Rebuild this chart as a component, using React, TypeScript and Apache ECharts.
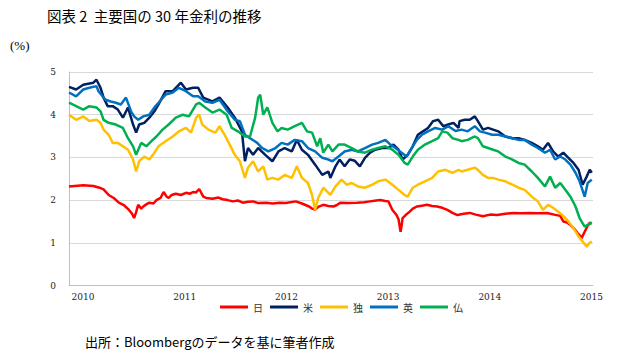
import React, { useEffect, useRef } from "react";
import * as echarts from "echarts";

// dates are fractional years
const jpData: [number, number][] = [
  [2010.00,2.32],[2010.14,2.35],[2010.24,2.33],[2010.30,2.29],[2010.34,2.25],[2010.39,2.12],[2010.44,2.05],[2010.49,1.94],[2010.54,1.88],[2010.59,1.77],[2010.62,1.68],[2010.64,1.58],[2010.66,1.72],[2010.68,1.89],[2010.71,1.80],[2010.73,1.85],[2010.76,1.90],[2010.79,1.94],[2010.83,1.92],[2010.86,2.00],[2010.90,2.05],[2010.93,2.19],[2010.96,2.08],[2010.98,2.05],[2011.01,2.12],[2011.05,2.15],[2011.10,2.12],[2011.15,2.17],[2011.19,2.15],[2011.22,2.19],[2011.25,2.18],[2011.28,2.26],[2011.32,2.08],[2011.35,2.05],[2011.41,2.03],[2011.47,2.06],[2011.51,2.02],[2011.56,2.00],[2011.61,1.97],[2011.66,1.99],[2011.71,1.94],[2011.76,1.96],[2011.81,1.97],[2011.86,1.93],[2011.94,1.94],[2012.00,1.92],[2012.07,1.94],[2012.13,1.93],[2012.23,1.97],[2012.29,1.92],[2012.36,1.85],[2012.39,1.80],[2012.42,1.78],[2012.45,1.84],[2012.50,1.89],[2012.55,1.86],[2012.60,1.85],[2012.63,1.88],[2012.67,1.94],[2012.74,1.93],[2012.83,1.94],[2012.90,1.95],[2012.96,1.97],[2013.02,1.99],[2013.06,2.00],[2013.11,1.98],[2013.14,1.97],[2013.18,1.77],[2013.22,1.65],[2013.24,1.55],[2013.26,1.26],[2013.27,1.40],[2013.28,1.58],[2013.31,1.65],[2013.35,1.73],[2013.38,1.80],[2013.42,1.85],[2013.47,1.87],[2013.52,1.89],[2013.57,1.86],[2013.62,1.85],[2013.67,1.82],[2013.72,1.77],[2013.77,1.70],[2013.82,1.65],[2013.88,1.68],[2013.94,1.70],[2014.00,1.66],[2014.07,1.62],[2014.14,1.66],[2014.21,1.65],[2014.29,1.68],[2014.37,1.70],[2014.44,1.69],[2014.53,1.70],[2014.61,1.69],[2014.70,1.70],[2014.77,1.66],[2014.83,1.63],[2014.86,1.50],[2014.89,1.48],[2014.93,1.42],[2014.97,1.32],[2015.00,1.23],[2015.03,1.15],[2015.04,1.11],[2015.07,1.26],[2015.10,1.40],[2015.12,1.47],[2015.14,1.45]
];

const usData: [number, number][] = [
  [2010.00,4.65],[2010.07,4.59],[2010.14,4.70],[2010.24,4.75],[2010.27,4.82],[2010.31,4.63],[2010.34,4.40],[2010.38,4.20],[2010.43,4.20],[2010.48,4.12],[2010.53,3.93],[2010.58,4.17],[2010.63,3.77],[2010.66,3.58],[2010.69,3.77],[2010.74,3.81],[2010.79,3.93],[2010.84,4.08],[2010.88,4.24],[2010.95,4.55],[2011.02,4.55],[2011.10,4.75],[2011.15,4.59],[2011.22,4.63],[2011.27,4.63],[2011.32,4.40],[2011.41,4.31],[2011.48,4.40],[2011.56,4.17],[2011.63,3.93],[2011.70,3.61],[2011.73,2.91],[2011.76,3.22],[2011.81,3.06],[2011.86,3.22],[2011.93,3.06],[2012.00,2.91],[2012.06,3.14],[2012.12,3.22],[2012.19,3.14],[2012.24,3.41],[2012.29,3.18],[2012.35,3.06],[2012.42,2.83],[2012.49,2.59],[2012.55,2.67],[2012.57,2.52],[2012.62,2.79],[2012.66,2.95],[2012.71,2.79],[2012.76,2.95],[2012.81,2.92],[2012.86,2.79],[2012.91,2.99],[2012.96,3.11],[2013.01,3.18],[2013.08,3.22],[2013.14,3.22],[2013.19,3.30],[2013.24,3.18],[2013.28,2.95],[2013.33,3.06],[2013.38,3.26],[2013.43,3.53],[2013.48,3.61],[2013.53,3.69],[2013.58,3.85],[2013.63,3.88],[2013.68,3.73],[2013.73,3.77],[2013.78,3.81],[2013.83,3.69],[2013.84,3.85],[2013.89,3.88],[2013.94,3.88],[2013.99,3.96],[2014.02,3.85],[2014.07,3.65],[2014.12,3.69],[2014.17,3.65],[2014.22,3.61],[2014.29,3.49],[2014.36,3.45],[2014.42,3.45],[2014.48,3.41],[2014.55,3.34],[2014.61,3.26],[2014.66,3.18],[2014.71,3.34],[2014.76,3.14],[2014.81,3.02],[2014.86,3.11],[2014.91,2.99],[2014.96,2.87],[2015.01,2.71],[2015.05,2.36],[2015.09,2.55],[2015.12,2.71],[2015.14,2.64]
];

const deData: [number, number][] = [
  [2010.00,4.00],[2010.07,3.88],[2010.14,3.96],[2010.20,3.85],[2010.27,3.88],[2010.31,3.81],[2010.34,3.65],[2010.39,3.53],[2010.43,3.34],[2010.48,3.34],[2010.53,3.26],[2010.58,3.18],[2010.63,2.95],[2010.66,2.67],[2010.69,2.91],[2010.74,3.02],[2010.79,2.95],[2010.84,3.11],[2010.88,3.26],[2010.95,3.38],[2011.02,3.49],[2011.08,3.61],[2011.15,3.69],[2011.20,3.58],[2011.25,3.93],[2011.28,4.00],[2011.31,3.77],[2011.37,3.65],[2011.44,3.58],[2011.48,3.73],[2011.53,3.53],[2011.58,3.30],[2011.63,3.06],[2011.68,2.91],[2011.73,2.52],[2011.76,2.76],[2011.81,2.91],[2011.86,2.67],[2011.91,2.79],[2011.95,2.48],[2012.00,2.52],[2012.06,2.48],[2012.12,2.59],[2012.19,2.52],[2012.24,2.79],[2012.29,2.52],[2012.35,2.40],[2012.39,2.12],[2012.42,1.77],[2012.45,2.05],[2012.50,2.29],[2012.55,2.17],[2012.57,2.12],[2012.62,2.32],[2012.68,2.48],[2012.73,2.36],[2012.78,2.40],[2012.84,2.32],[2012.91,2.29],[2012.98,2.36],[2013.04,2.44],[2013.11,2.48],[2013.18,2.36],[2013.24,2.24],[2013.30,2.12],[2013.33,2.08],[2013.38,2.29],[2013.43,2.36],[2013.50,2.44],[2013.57,2.52],[2013.63,2.67],[2013.70,2.71],[2013.77,2.64],[2013.83,2.71],[2013.86,2.67],[2013.92,2.71],[2013.99,2.76],[2014.02,2.71],[2014.07,2.59],[2014.12,2.52],[2014.17,2.52],[2014.22,2.48],[2014.29,2.44],[2014.36,2.36],[2014.42,2.29],[2014.48,2.24],[2014.55,2.08],[2014.61,1.97],[2014.66,1.77],[2014.71,1.89],[2014.76,1.82],[2014.81,1.73],[2014.88,1.58],[2014.95,1.38],[2015.01,1.15],[2015.05,1.03],[2015.09,0.91],[2015.12,1.00],[2015.14,1.03]
];

const ukData: [number, number][] = [
  [2010.00,4.52],[2010.07,4.43],[2010.14,4.59],[2010.20,4.63],[2010.27,4.67],[2010.29,4.55],[2010.33,4.43],[2010.36,4.35],[2010.41,4.31],[2010.46,4.28],[2010.51,4.24],[2010.56,4.40],[2010.61,4.08],[2010.64,3.96],[2010.68,3.88],[2010.73,3.96],[2010.79,4.00],[2010.84,4.17],[2010.88,4.28],[2010.95,4.47],[2011.02,4.52],[2011.08,4.63],[2011.15,4.55],[2011.22,4.43],[2011.27,4.43],[2011.34,4.31],[2011.41,4.28],[2011.48,4.35],[2011.56,4.08],[2011.63,3.88],[2011.68,3.85],[2011.73,3.53],[2011.78,3.45],[2011.85,3.34],[2011.90,3.22],[2011.96,3.14],[2012.03,3.22],[2012.09,3.34],[2012.15,3.30],[2012.22,3.41],[2012.29,3.38],[2012.35,3.22],[2012.42,3.14],[2012.49,2.99],[2012.55,2.95],[2012.59,2.91],[2012.65,3.02],[2012.71,3.14],[2012.78,3.18],[2012.84,3.14],[2012.91,3.22],[2012.98,3.30],[2013.04,3.34],[2013.11,3.41],[2013.16,3.30],[2013.21,3.22],[2013.27,3.11],[2013.32,3.02],[2013.37,3.22],[2013.42,3.41],[2013.47,3.53],[2013.53,3.61],[2013.60,3.69],[2013.67,3.65],[2013.73,3.73],[2013.80,3.62],[2013.86,3.65],[2013.92,3.61],[2013.99,3.73],[2014.04,3.61],[2014.09,3.58],[2014.16,3.53],[2014.22,3.53],[2014.29,3.49],[2014.36,3.45],[2014.42,3.41],[2014.48,3.41],[2014.55,3.30],[2014.61,3.22],[2014.68,3.11],[2014.73,3.18],[2014.78,2.95],[2014.83,3.02],[2014.88,2.95],[2014.93,2.83],[2014.98,2.64],[2015.02,2.44],[2015.07,2.08],[2015.10,2.40],[2015.14,2.48]
];

const frData: [number, number][] = [
  [2010.00,4.28],[2010.07,4.20],[2010.14,4.12],[2010.20,4.20],[2010.27,4.17],[2010.31,4.08],[2010.34,3.88],[2010.39,3.81],[2010.46,3.77],[2010.53,3.69],[2010.58,3.45],[2010.63,3.26],[2010.66,3.06],[2010.71,3.34],[2010.76,3.26],[2010.81,3.38],[2010.86,3.49],[2010.92,3.65],[2010.98,3.77],[2011.05,3.93],[2011.12,4.00],[2011.18,3.96],[2011.25,4.24],[2011.28,4.28],[2011.34,4.17],[2011.41,4.05],[2011.48,4.12],[2011.55,4.00],[2011.60,3.69],[2011.66,3.61],[2011.73,3.49],[2011.78,3.49],[2011.83,3.93],[2011.86,4.40],[2011.88,4.47],[2011.91,4.00],[2011.95,4.17],[2012.00,3.81],[2012.05,3.61],[2012.09,3.69],[2012.15,3.65],[2012.22,3.73],[2012.29,3.81],[2012.34,3.61],[2012.39,3.58],[2012.44,3.26],[2012.47,3.45],[2012.50,3.11],[2012.55,3.30],[2012.59,3.14],[2012.65,3.30],[2012.71,3.30],[2012.78,3.22],[2012.84,3.14],[2012.91,3.11],[2012.98,3.18],[2013.04,3.22],[2013.11,3.26],[2013.18,3.18],[2013.24,3.06],[2013.30,2.87],[2013.33,2.83],[2013.38,3.02],[2013.43,3.18],[2013.50,3.30],[2013.57,3.38],[2013.63,3.45],[2013.67,3.61],[2013.72,3.58],[2013.77,3.45],[2013.83,3.41],[2013.86,3.38],[2013.92,3.41],[2013.99,3.49],[2014.02,3.45],[2014.07,3.26],[2014.12,3.22],[2014.17,3.18],[2014.22,3.14],[2014.29,3.02],[2014.36,2.95],[2014.42,2.87],[2014.48,2.83],[2014.55,2.67],[2014.61,2.52],[2014.68,2.32],[2014.73,2.55],[2014.78,2.29],[2014.83,2.40],[2014.88,2.24],[2014.93,2.08],[2014.98,1.85],[2015.02,1.58],[2015.07,1.38],[2015.10,1.42],[2015.14,1.47]
];

const seriesNames = ["日", "米", "独", "英", "仏"];
const seriesColors = ["#FF0000", "#002060", "#FFC000", "#0070C0", "#00B050"];
const seriesData = [jpData, usData, deData, ukData, frData];
const yearLabels = [2010, 2011, 2012, 2013, 2014, 2015];
const yTicks = { min: 0, max: 5, interval: 1 };

const titleText = "図表 2  主要国の 30 年金利の推移";
const unitText = "(%)";
const sourceText = "出所：Bloombergのデータを基に筆者作成";

export default function App() {
  const ref = useRef<HTMLDivElement>(null);
  useEffect(() => {
    document.body.style.margin = "0";
    if (!ref.current) return;
    const chart = echarts.init(ref.current, null, { renderer: "svg" });
    const cjk = "Noto Sans CJK JP";
    const serif = "DejaVu Serif";
    chart.setOption({
      animation: false,
      backgroundColor: "#ffffff",
      grid: { left: 69, right: 34, top: 72, bottom: 69.5 },
      legend: {
        left: 215,
        top: 297,
        icon: "rect",
        itemWidth: 28,
        itemHeight: 3,
        itemGap: 7,
        textStyle: { fontFamily: cjk, fontSize: 10, color: "#333" },
        data: seriesNames,
      },
      xAxis: {
        type: "value",
        min: 2010,
        max: 2015.152,
        splitLine: { show: false },
        axisTick: { show: false },
        axisLine: { show: true, lineStyle: { color: "#BFBFBF", width: 1 } },
        axisLabel: {
          customValues: yearLabels,
          formatter: (v: number) => String(Math.round(v)),
          fontFamily: serif,
          fontSize: 9,
          color: "#222",
          margin: 7,
          padding: [0, 0, 0, 28],
          showMinLabel: true,
          showMaxLabel: true,
        },
      },
      yAxis: {
        type: "value",
        min: yTicks.min,
        max: yTicks.max,
        interval: yTicks.interval,
        axisLine: { show: true, lineStyle: { color: "#BFBFBF", width: 1 } },
        axisTick: { show: false },
        splitLine: { show: true, lineStyle: { color: "#D9D9D9", width: 1 } },
        axisLabel: { fontFamily: serif, fontSize: 9, color: "#222", margin: 13 },
      },
      graphic: [
        { type: "text", left: 47, top: 8, style: { text: titleText, font: `14.5px "Noto Sans CJK JP"`, fill: "#000" } },
        { type: "text", left: 10, top: 39, style: { text: unitText, font: `13px "Liberation Serif"`, fill: "#000" } },
        { type: "text", left: 85, top: 335, style: { text: sourceText, font: `13px "Noto Sans CJK JP"`, fill: "#000" } },
      ],
      series: seriesNames.map((name, i) => ({
        name,
        type: "line",
        data: seriesData[i],
        showSymbol: false,
        symbol: "none",
        color: seriesColors[i],
        lineStyle: { color: seriesColors[i], width: 2.5 },
      })),
    });
    return () => chart.dispose();
  }, []);
  return <div ref={ref} style={{ width: 627, height: 355 }} />;
}
